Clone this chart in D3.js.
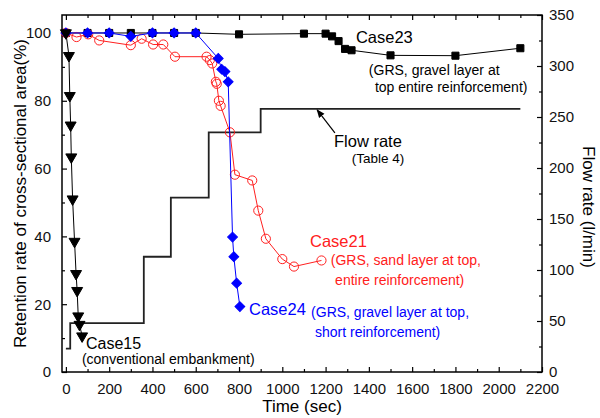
<!DOCTYPE html>
<html>
<head>
<meta charset="utf-8">
<script src="https://cdn.jsdelivr.net/npm/d3@7"></script>
<style>
  body { margin: 0; background: #fff; }
  svg { display: block; font-family: Arial, 'Liberation Sans', sans-serif; }
</style>
</head>
<body>
<div id="chart"></div>
<script>
// --- data -------------------------------------------------------------------
// Case15: conventional embankment (time in sec, retention in %)
const case15Time = [0, 14, 18, 22, 25, 31, 40, 47, 52, 57, 63, 75];
const case15Val  = [100, 93.3, 81.5, 72.8, 63.4, 51.0, 38.5, 29.0, 24.0, 16.5, 14.0, 10.6];

// Case21: GRS, sand layer at top, entire reinforcement
const case21Time = [0, 49, 103, 154, 300, 350, 403, 450, 504, 650, 665, 676, 693, 697, 707, 715, 758, 781, 861, 889, 924, 1000, 1054, 1181];
const case21Val  = [100, 98.8, 99.6, 97.8, 96.4, 98.3, 96.6, 96.6, 93.0, 93.0, 92.0, 91.0, 85.6, 85.0, 80.0, 78.5, 70.7, 58.2, 56.5, 47.6, 39.3, 33.3, 31.1, 32.9];

// Case23: GRS, gravel layer at top, entire reinforcement
const case23Time = [0, 100, 200, 300, 400, 500, 600, 800, 1100, 1200, 1230, 1260, 1290, 1320, 1500, 1800, 2100];
const case23Val  = [100, 100, 100, 100, 100, 100, 100, 99.6, 99.8, 99.8, 99.0, 97.6, 95.3, 94.9, 93.4, 93.3, 95.5];

// Case24: GRS, gravel layer at top, short reinforcement
const case24Time = [0, 100, 200, 300, 400, 500, 600, 704, 720, 735, 750, 770, 776, 789, 804];
const case24Val  = [100, 100, 100, 99.0, 100, 100, 100, 92.5, 89.3, 88.6, 85.6, 39.8, 34.0, 26.2, 19.3];

// flow rate steps (l/min), each value held until the next time
const flowTime = [0, 20, 360, 485, 660, 900, 2100];
const flowRate = [23, 48, 113, 171, 235, 258, 258];

// ticks
const xTicks      = [0, 200, 400, 600, 800, 1000, 1200, 1400, 1600, 1800, 2000, 2200];
const xMinorTicks = d3.range(100, 2200, 200);
const yTicks      = [0, 20, 40, 60, 80, 100];
const yMinorTicks = [10, 30, 50, 70, 90];
const y2Ticks     = [0, 50, 100, 150, 200, 250, 300, 350];
const y2MinorTicks = [25, 75, 125, 175, 225, 275, 325];

//--- chart dimensions --------------------------------------------------------
const width = 600;
const height = 418;
const margin = {top: 15, right: 58, bottom: 46, left: 62};

const mySVG = d3.select('#chart')
    .append('svg')
        .attr('width', width)
        .attr('height', height);

let x = d3.scaleLinear()
    .domain([-18, 2200])
    .range([margin.left, width - margin.right]);

let y = d3.scaleLinear()
    .domain([0, 105.3])
    .range([height - margin.bottom, margin.top]);

let y2 = d3.scaleLinear()
    .domain([0, 350])
    .range([height - margin.bottom, margin.top]);

//--- axes --------------------------------------------------------------------
function styleAxis(g) {
    g.select('.domain').remove();
    g.selectAll('line').attr('stroke', '#000').attr('stroke-width', 1.2);
    g.selectAll('text').style('font-size', '15px').attr('fill', '#111');
}

const plainNum = d3.format('d');

// minor ticks first, then majors with labels
mySVG.append('g')
    .attr('transform', `translate(0,${height - margin.bottom})`)
    .call(d3.axisBottom(x).tickValues(xMinorTicks).tickSize(-3).tickFormat(''))
    .call(styleAxis);
mySVG.append('g')
    .attr('transform', `translate(0,${height - margin.bottom})`)
    .call(d3.axisBottom(x).tickValues(xTicks).tickSize(-5).tickPadding(11).tickFormat(plainNum))
    .call(styleAxis);

mySVG.append('g')
    .attr('transform', `translate(0,${margin.top})`)
    .call(d3.axisTop(x).tickValues(xMinorTicks).tickSize(-3).tickFormat(''))
    .call(styleAxis);
mySVG.append('g')
    .attr('transform', `translate(0,${margin.top})`)
    .call(d3.axisTop(x).tickValues(xTicks).tickSize(-5).tickFormat(''))
    .call(styleAxis);

mySVG.append('g')
    .attr('transform', `translate(${margin.left},0)`)
    .call(d3.axisLeft(y).tickValues(yMinorTicks).tickSize(-3).tickFormat(''))
    .call(styleAxis);
mySVG.append('g')
    .attr('transform', `translate(${margin.left},0)`)
    .call(d3.axisLeft(y).tickValues(yTicks).tickSize(-5).tickPadding(11).tickFormat(plainNum))
    .call(styleAxis);

mySVG.append('g')
    .attr('transform', `translate(${width - margin.right},0)`)
    .call(d3.axisRight(y2).tickValues(y2MinorTicks).tickSize(-3).tickFormat(''))
    .call(styleAxis);
mySVG.append('g')
    .attr('transform', `translate(${width - margin.right},0)`)
    .call(d3.axisRight(y2).tickValues(y2Ticks).tickSize(-5).tickPadding(7).tickFormat(plainNum))
    .call(styleAxis);

// frame
mySVG.append('rect')
    .attr('x', margin.left)
    .attr('y', margin.top)
    .attr('width', width - margin.left - margin.right)
    .attr('height', height - margin.top - margin.bottom)
    .attr('fill', 'none')
    .attr('stroke', '#000')
    .attr('stroke-width', 1.5);

// axis titles
mySVG.append('text')
    .attr('x', (margin.left + width - margin.right) / 2)
    .attr('y', 412)
    .attr('text-anchor', 'middle')
    .style('font-size', '17px')
    .text('Time (sec)');

mySVG.append('text')
    .attr('transform', `translate(26,${(margin.top + height - margin.bottom) / 2}) rotate(-90)`)
    .attr('text-anchor', 'middle')
    .style('font-size', '17px')
    .text('Retention rate of cross-sectional area(%)');

mySVG.append('text')
    .attr('transform', `translate(583,207) rotate(90)`)
    .attr('text-anchor', 'middle')
    .style('font-size', '17px')
    .text('Flow rate (l/min)');

//--- series ------------------------------------------------------------------
const zipSeries = (ts, vs) => ts.map((t, i) => ({t: t, v: vs[i]}));

let flowData = zipSeries(flowTime, flowRate);
mySVG.append('path')
    .datum(flowData)
    .attr('fill', 'none')
    .attr('stroke', '#222')
    .attr('stroke-width', 1.8)
    .attr('d', d3.line().curve(d3.curveStepAfter).x(d => x(d.t)).y(d => y2(d.v)));

function drawSeries(data, color, symbol, size, filled, rotate) {
    let g = mySVG.append('g');
    g.append('path')
        .datum(data)
        .attr('fill', 'none')
        .attr('stroke', color)
        .attr('stroke-width', 1)
        .attr('d', d3.line().x(d => x(d.t)).y(d => y(d.v)));
    g.selectAll('path.mark')
        .data(data)
        .join('path')
            .classed('mark', true)
            .attr('transform', d => `translate(${x(d.t)},${y(d.v)}) rotate(${rotate})`)
            .attr('d', d3.symbol().type(symbol).size(size))
            .attr('fill', filled ? color : 'none')
            .attr('stroke', color)
            .attr('stroke-width', 1);
}

drawSeries(zipSeries(case23Time, case23Val), '#000', d3.symbolSquare, 50, true, 0);
drawSeries(zipSeries(case21Time, case21Val), '#ff2020', d3.symbolCircle, 66, false, 0);
drawSeries(zipSeries(case24Time, case24Val), '#0000ff', d3.symbolSquare, 48, true, 45);
drawSeries(zipSeries(case15Time, case15Val), '#000', d3.symbolTriangle, 52, true, 180);

//--- annotations -------------------------------------------------------------
function label(t, v, txt, color, size) {
    mySVG.append('text')
        .attr('x', x(t))
        .attr('y', y(v))
        .attr('fill', color)
        .style('font-size', size + 'px')
        .text(txt);
}

label(1340, 97.0, 'Case23', '#000', 16.5);
label(1400, 87.6, '(GRS, gravel layer at', '#000', 14);
label(1428, 82.7, 'top entire reinforcement)', '#000', 14);

label(1239, 66.5, 'Flow rate', '#000', 16.5);
label(1321, 61.7, '(Table 4)', '#000', 13.5);

label(1128, 37.0, 'Case21', '#ff2020', 16.5);
label(1224, 31.6, '(GRS, sand layer at top,', '#ff2020', 14);
label(1244, 25.7, 'entire reinforcement)', '#ff2020', 14);

label(846, 16.8, 'Case24', '#0000ff', 16.5);
label(1133, 16.3, '(GRS, gravel layer at top,', '#0000ff', 14);
label(1151, 10.4, 'short reinforcement)', '#0000ff', 14);

label(93, 6.8, 'Case15', '#000', 16);
label(74, 2.4, '(conventional embankment)', '#000', 14);

// arrow pointing at the flow rate line
mySVG.append('defs')
    .append('marker')
        .attr('id', 'arrowHead')
        .attr('viewBox', '0 0 10 10')
        .attr('refX', 9)
        .attr('refY', 5)
        .attr('markerWidth', 7)
        .attr('markerHeight', 7)
        .attr('orient', 'auto')
    .append('path')
        .attr('d', 'M0,1 L10,5 L0,9 Z')
        .attr('fill', '#000');

mySVG.append('line')
    .attr('x1', x(1243))
    .attr('y1', y(70.5))
    .attr('x2', x(1161))
    .attr('y2', y(77.3))
    .attr('stroke', '#000')
    .attr('stroke-width', 1.2)
    .attr('marker-end', 'url(#arrowHead)');
</script>
</body>
</html>
